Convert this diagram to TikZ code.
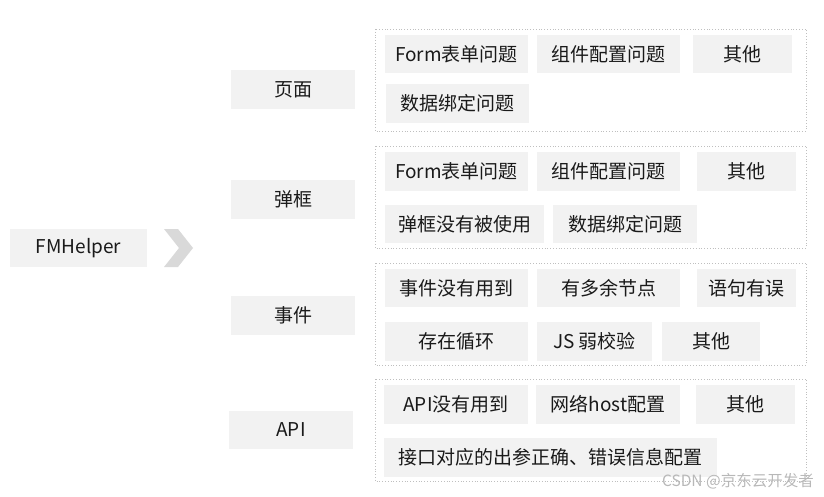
\documentclass[tikz,border=0pt]{standalone}
\usepackage{fontspec}
\setmainfont{Noto Sans CJK SC}
\definecolor{boxfill}{HTML}{F2F2F2}
\definecolor{chevgray}{HTML}{D9D9D9}
\definecolor{framegray}{HTML}{BFBFBF}
\definecolor{textdark}{HTML}{1A1A1A}
\tikzset{
  itembox/.style={fill=boxfill, inner sep=0pt, minimum height=38.5pt, text=textdark,
    font=\fontsize{19}{21}\selectfont},
  groupframe/.style={draw=framegray, dotted, line width=0.8pt},
}
\begin{document}
\begin{tikzpicture}[x=1pt,y=-1pt]
  \useasboundingbox (0,0) rectangle (824,497);
  % root and chevron
  \node[itembox, minimum width=137pt] (root) at (78.5,248) {FMHelper};
  \fill[chevgray] (164,229) -- (178,229) -- (193,248) -- (178,267) -- (164,267) -- (179,248) -- cycle;
  % categories
  \node[itembox, minimum width=124pt] (page) at (293,89.5) {页面};
  \node[itembox, minimum width=124pt] (dialog) at (293,199.5) {弹框};
  \node[itembox, minimum width=124pt] (event) at (293,315.5) {事件};
  \node[itembox, minimum width=124pt] (api) at (291,430) {API};
  % group frames
  \draw[groupframe] (375,29) rectangle (806,131);
  \draw[groupframe] (375,146) rectangle (806,248);
  \draw[groupframe] (375,263) rectangle (806,365);
  \draw[groupframe] (375,379) rectangle (806,481);
  % page items
  \node[itembox, minimum width=143pt] (pageform) at (456.5,54) {Form表单问题};
  \node[itembox, minimum width=143pt] (pagecomp) at (608.5,54) {组件配置问题};
  \node[itembox, minimum width=99pt] (pageother) at (742.5,54) {其他};
  \node[itembox, minimum width=143pt] (pagebind) at (457.5,103.5) {数据绑定问题};
  % dialog items
  \node[itembox, minimum width=143pt] (dlgform) at (456.5,171.5) {Form表单问题};
  \node[itembox, minimum width=143pt] (dlgcomp) at (608.5,171.5) {组件配置问题};
  \node[itembox, minimum width=99pt] (dlgother) at (746.5,171.5) {其他};
  \node[itembox, minimum width=159pt] (dlgunused) at (464.5,224) {弹框没有被使用};
  \node[itembox, minimum width=144pt] (dlgbind) at (625,224) {数据绑定问题};
  % event items
  \node[itembox, minimum width=143pt] (evtunused) at (456.5,288) {事件没有用到};
  \node[itembox, minimum width=143pt] (evtnode) at (608.5,288) {有多余节点};
  \node[itembox, minimum width=99pt] (evtstmt) at (746.5,288) {语句有误};
  \node[itembox, minimum width=143pt] (evtloop) at (456.5,341.5) {存在循环};
  \node[itembox, minimum width=115pt] (evtjs) at (594.5,341.5) {JS 弱校验};
  \node[itembox, minimum width=98pt] (evtother) at (711,341.5) {其他};
  % api items
  \node[itembox, minimum width=144pt] (apiunused) at (456,404.5) {API没有用到};
  \node[itembox, minimum width=144pt] (apihost) at (608,404.5) {网络host配置};
  \node[itembox, minimum width=99pt] (apiother) at (745.5,404.5) {其他};
  \node[itembox, minimum width=333pt] (apiparam) at (550.5,457.5) {接口对应的出参正确、错误信息配置};
  % watermark
  \node[anchor=east, text=black!28, inner sep=0pt, font=\fontsize{15.5}{17}\selectfont] (mark) at (814,481) {CSDN @京东云开发者};
\end{tikzpicture}
\end{document}
